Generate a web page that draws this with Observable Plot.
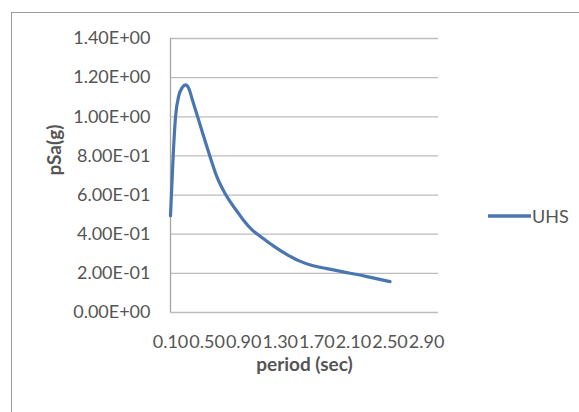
<!DOCTYPE html>
<html>
<head>
<meta charset="utf-8">
<script src="https://cdn.jsdelivr.net/npm/d3@7"></script>
<script src="https://cdn.jsdelivr.net/npm/@observablehq/plot@0.6"></script>
<style>
  html, body { margin: 0; padding: 0; background: #fff; }
  #wrap { position: relative; width: 579px; height: 412px; overflow: hidden; font-family: Lato, "Open Sans", sans-serif; }
  #border { position: absolute; left: 11px; top: 12px; width: 620px; height: 440px; border: 1px solid #9a9a9a; box-sizing: border-box; }
  #chart { position: absolute; left: 0; top: 0; }
  #legend { position: absolute; left: 488px; top: 204px; display: flex; align-items: center; color: #555555; font-size: 18px; }
  #legend svg { display: block; }
</style>
</head>
<body>
<div id="wrap">
  <div id="border"></div>
  <div id="chart"></div>
  <div id="legend"></div>
</div>
<script>
const seriesName = "UHS";
const periods = [0.10, 0.13, 0.155, 0.19, 0.23, 0.264, 0.30, 0.337, 0.39, 0.446, 0.53, 0.61, 0.70, 0.83, 0.90, 1.00, 1.08, 1.22, 1.36, 1.50, 1.65, 1.81, 2.00, 2.14, 2.30, 2.50];
const psa     = [0.495, 0.81, 1.00, 1.107, 1.15, 1.163, 1.145, 1.09, 1.01, 0.925, 0.80, 0.69, 0.605, 0.515, 0.47, 0.418, 0.39, 0.342, 0.30, 0.265, 0.24, 0.224, 0.206, 0.194, 0.178, 0.158];
const xTicks = [0.10, 0.50, 0.90, 1.30, 1.70, 2.10, 2.50, 2.90];
const yTicks = [0, 0.2, 0.4, 0.6, 0.8, 1.0, 1.2, 1.4];
const xTitle = "period (sec)";
const yTitle = "pSa(g)";

const data = periods.map((p, i) => ({period: p, psa: psa[i]}));

function sci(d) {
  const [m, e] = d.toExponential(2).split("e");
  const sign = e[0] === "-" ? "-" : "+";
  const digits = e.replace(/^[+-]/, "").padStart(2, "0");
  return m + "E" + sign + digits;
}

const lineColor = "#4a76b0";
const textColor = "#555555";

const chart = Plot.plot({
  width: 579,
  height: 412,
  marginLeft: 170,
  marginRight: 141,
  marginTop: 38,
  marginBottom: 100,
  style: {fontFamily: "Lato, 'Open Sans', sans-serif", fontSize: "18px", color: textColor, background: "transparent"},
  x: {domain: [0.1, 3.03]},
  y: {domain: [0, 1.4]},
  marks: [
    Plot.gridY(yTicks, {stroke: "#bdbdbd", strokeOpacity: 1, strokeWidth: 1.3}),
    Plot.ruleX([0.1], {stroke: "#a6a6a6", strokeWidth: 1.3}),
    Plot.axisY(yTicks, {tickSize: 0, tickPadding: 20, tickFormat: sci, label: null, fill: textColor}),
    Plot.axisX(xTicks, {tickSize: 0, tickPadding: 23, tickFormat: d3.format(".2f"), label: null, fill: textColor}),
    Plot.line(data, {x: "period", y: "psa", stroke: lineColor, strokeWidth: 3.2, curve: "monotone-x"}),
    Plot.text([xTitle], {frameAnchor: "bottom", dy: 52, text: d => d, fontWeight: "bold", fontSize: 19, fill: textColor, lineAnchor: "middle"}),
    Plot.text([yTitle], {frameAnchor: "left", dx: -116, text: d => d, rotate: -90, fontWeight: "bold", fontSize: 19, fill: textColor, lineAnchor: "middle"})
  ]
});
document.getElementById("chart").appendChild(chart);

const legend = document.getElementById("legend");
legend.innerHTML = `<svg width="44" height="24"><line x1="0" x2="43" y1="12" y2="12" stroke="${lineColor}" stroke-width="3.5"/></svg><span>${seriesName}</span>`;
</script>
</body>
</html>
